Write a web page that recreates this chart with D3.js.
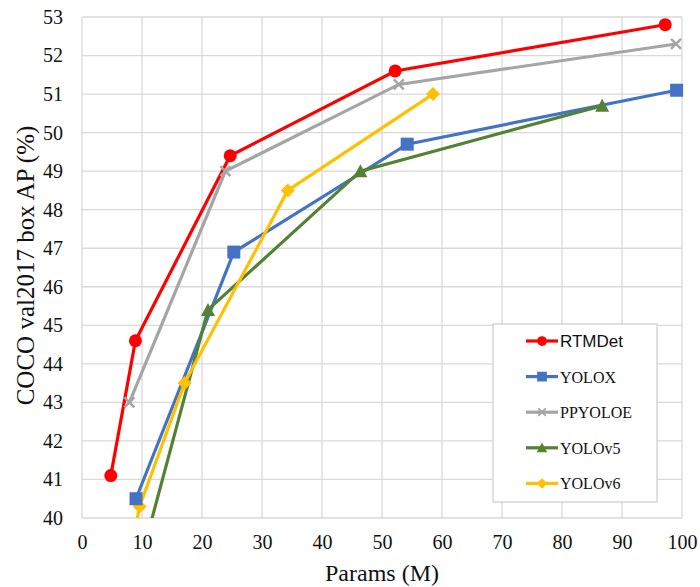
<!DOCTYPE html>
<html>
<head>
<meta charset="utf-8">
<script src="https://cdn.jsdelivr.net/npm/d3@7"></script>
<style>
  body { margin: 0; background: #fff; }
</style>
</head>
<body>
<div class="chart"></div>
<script>
var xTicks = [0, 10, 20, 30, 40, 50, 60, 70, 80, 90, 100];
var yTicks = [40, 41, 42, 43, 44, 45, 46, 47, 48, 49, 50, 51, 52, 53];

var seriesNames = ['RTMDet', 'YOLOX', 'PPYOLOE', 'YOLOv5', 'YOLOv6'];
var seriesColors = ['#ff0000', '#4472c4', '#a5a5a5', '#548235', '#ffc000'];
var seriesMarkers = ['circle', 'square', 'cross', 'triangle', 'diamond'];

var rtmdetParams = [4.8, 8.9, 24.7, 52.2, 97.2];
var rtmdetAP = [41.1, 44.6, 49.4, 51.6, 52.8];
var yoloxParams = [9.0, 25.3, 54.2, 99.1];
var yoloxAP = [40.5, 46.9, 49.7, 51.1];
var ppyoloeParams = [7.9, 23.9, 52.8, 99.0];
var ppyoloeAP = [43.0, 49.0, 51.25, 52.3];
var yolov5Params = [7.2, 21.0, 46.4, 86.7];
var yolov5AP = [37.4, 45.4, 49.0, 50.7];
var yolov6Params = [4.3, 9.6, 17.1, 34.3, 58.5];
var yolov6AP = [35.9, 40.3, 43.5, 48.5, 51.0];

var paramsList = [rtmdetParams, yoloxParams, ppyoloeParams, yolov5Params, yolov6Params];
var apList = [rtmdetAP, yoloxAP, ppyoloeAP, yolov5AP, yolov6AP];

var serif = '"Liberation Serif", "Times New Roman", serif';

var margin = {top: 17, right: 18, bottom: 69, left: 82};
var width = 700 - margin.left - margin.right;
var height = 587 - margin.top - margin.bottom;

var svg = d3.select('.chart')
  .append('svg')
    .attr('width', 700)
    .attr('height', 587)
  .append('g')
    .attr('transform', `translate(${margin.left}, ${margin.top})`);

var xScale = d3.scaleLinear().domain([0, 100]).range([0, width]);
var yScale = d3.scaleLinear().domain([40, 53]).range([height, 0]);

// grid
svg.append('g')
  .selectAll('line')
  .data(xTicks)
  .enter()
  .append('line')
    .attr('x1', d => xScale(d))
    .attr('x2', d => xScale(d))
    .attr('y1', 0)
    .attr('y2', height)
    .attr('stroke', '#d9d9d9')
    .attr('stroke-width', 1.3);

svg.append('g')
  .selectAll('line')
  .data(yTicks)
  .enter()
  .append('line')
    .attr('x1', 0)
    .attr('x2', width)
    .attr('y1', d => yScale(d))
    .attr('y2', d => yScale(d))
    .attr('stroke', '#d9d9d9')
    .attr('stroke-width', 1.3);

// axes labels (no domain lines)
var xAxis = svg.append('g')
  .attr('transform', `translate(0, ${height})`)
  .call(d3.axisBottom(xScale).tickValues(xTicks).tickSize(0).tickPadding(17));
var yAxis = svg.append('g')
  .call(d3.axisLeft(yScale).tickValues(yTicks).tickSize(0).tickPadding(19));

[xAxis, yAxis].forEach(function(ax) {
  ax.select('.domain').remove();
  ax.selectAll('text')
    .attr('font-family', serif)
    .attr('font-size', 20)
    .attr('fill', '#111');
});

svg.append('text')
  .attr('x', width / 2)
  .attr('y', height + 63)
  .attr('text-anchor', 'middle')
  .attr('font-family', serif)
  .attr('font-size', 24)
  .attr('fill', '#111')
  .text('Params (M)');

svg.append('text')
  .attr('transform', `translate(-48, ${height / 2 - 2}) rotate(-90)`)
  .attr('text-anchor', 'middle')
  .attr('font-family', serif)
  .attr('font-size', 25)
  .attr('fill', '#111')
  .text('COCO val2017 box AP (%)');

// clip
svg.append('clipPath')
  .attr('id', 'plot-clip')
  .append('rect')
    .attr('x', -20)
    .attr('y', -20)
    .attr('width', width + 40)
    .attr('height', height + 20);

var line = d3.line()
  .x(d => xScale(d[0]))
  .y(d => yScale(d[1]));

function drawMarker(g, type, color) {
  if (type === 'circle') {
    g.append('circle').attr('r', 6.5).attr('fill', color);
  } else if (type === 'square') {
    g.append('rect').attr('x', -6.5).attr('y', -6.5).attr('width', 13).attr('height', 13).attr('fill', color);
  } else if (type === 'triangle') {
    g.append('path').attr('d', 'M0,-7 L7,6 L-7,6 Z').attr('fill', color);
  } else if (type === 'diamond') {
    g.append('path').attr('d', 'M0,-7 L7,0 L0,7 L-7,0 Z').attr('fill', color);
  } else if (type === 'cross') {
    g.append('path').attr('d', 'M-5,-5 L5,5 M-5,5 L5,-5')
      .attr('stroke', color).attr('stroke-width', 2.5).attr('fill', 'none');
  }
}

var plot = svg.append('g').attr('clip-path', 'url(#plot-clip)');

seriesNames.forEach(function(name, i) {
  var pts = paramsList[i].map((p, j) => [p, apList[i][j]]);
  plot.append('path')
    .datum(pts)
    .attr('d', line)
    .attr('fill', 'none')
    .attr('stroke', seriesColors[i])
    .attr('stroke-width', 3.2);
});

// markers drawn in reverse order so RTMDet sits on top
seriesNames.slice().reverse().forEach(function(name, k) {
  var i = seriesNames.length - 1 - k;
  paramsList[i].forEach(function(p, j) {
    var g = plot.append('g')
      .attr('transform', `translate(${xScale(p)}, ${yScale(apList[i][j])})`);
    drawMarker(g, seriesMarkers[i], seriesColors[i]);
  });
});

// legend
var legend = svg.append('g').attr('transform', `translate(${493 - margin.left}, ${324 - margin.top})`);
legend.append('rect')
  .attr('width', 164)
  .attr('height', 178)
  .attr('fill', '#fff')
  .attr('stroke', '#d0d0d0')
  .attr('stroke-width', 1.3);

seriesNames.forEach(function(name, i) {
  var row = legend.append('g').attr('transform', `translate(0, ${17 + i * 35.6})`);
  row.append('line')
    .attr('x1', 33).attr('x2', 65)
    .attr('stroke', seriesColors[i])
    .attr('stroke-width', 3.2);
  var m = row.append('g').attr('transform', 'translate(49, 0) scale(0.75)');
  drawMarker(m, seriesMarkers[i], seriesColors[i]);
  row.append('text')
    .attr('x', 67)
    .attr('y', 6)
    .attr('font-family', i === 0 ? '"Liberation Sans", Arial, sans-serif' : serif)
    .attr('font-size', i === 0 ? 17 : 16)
    .attr('fill', '#111')
    .text(name);
});
</script>
</body>
</html>
